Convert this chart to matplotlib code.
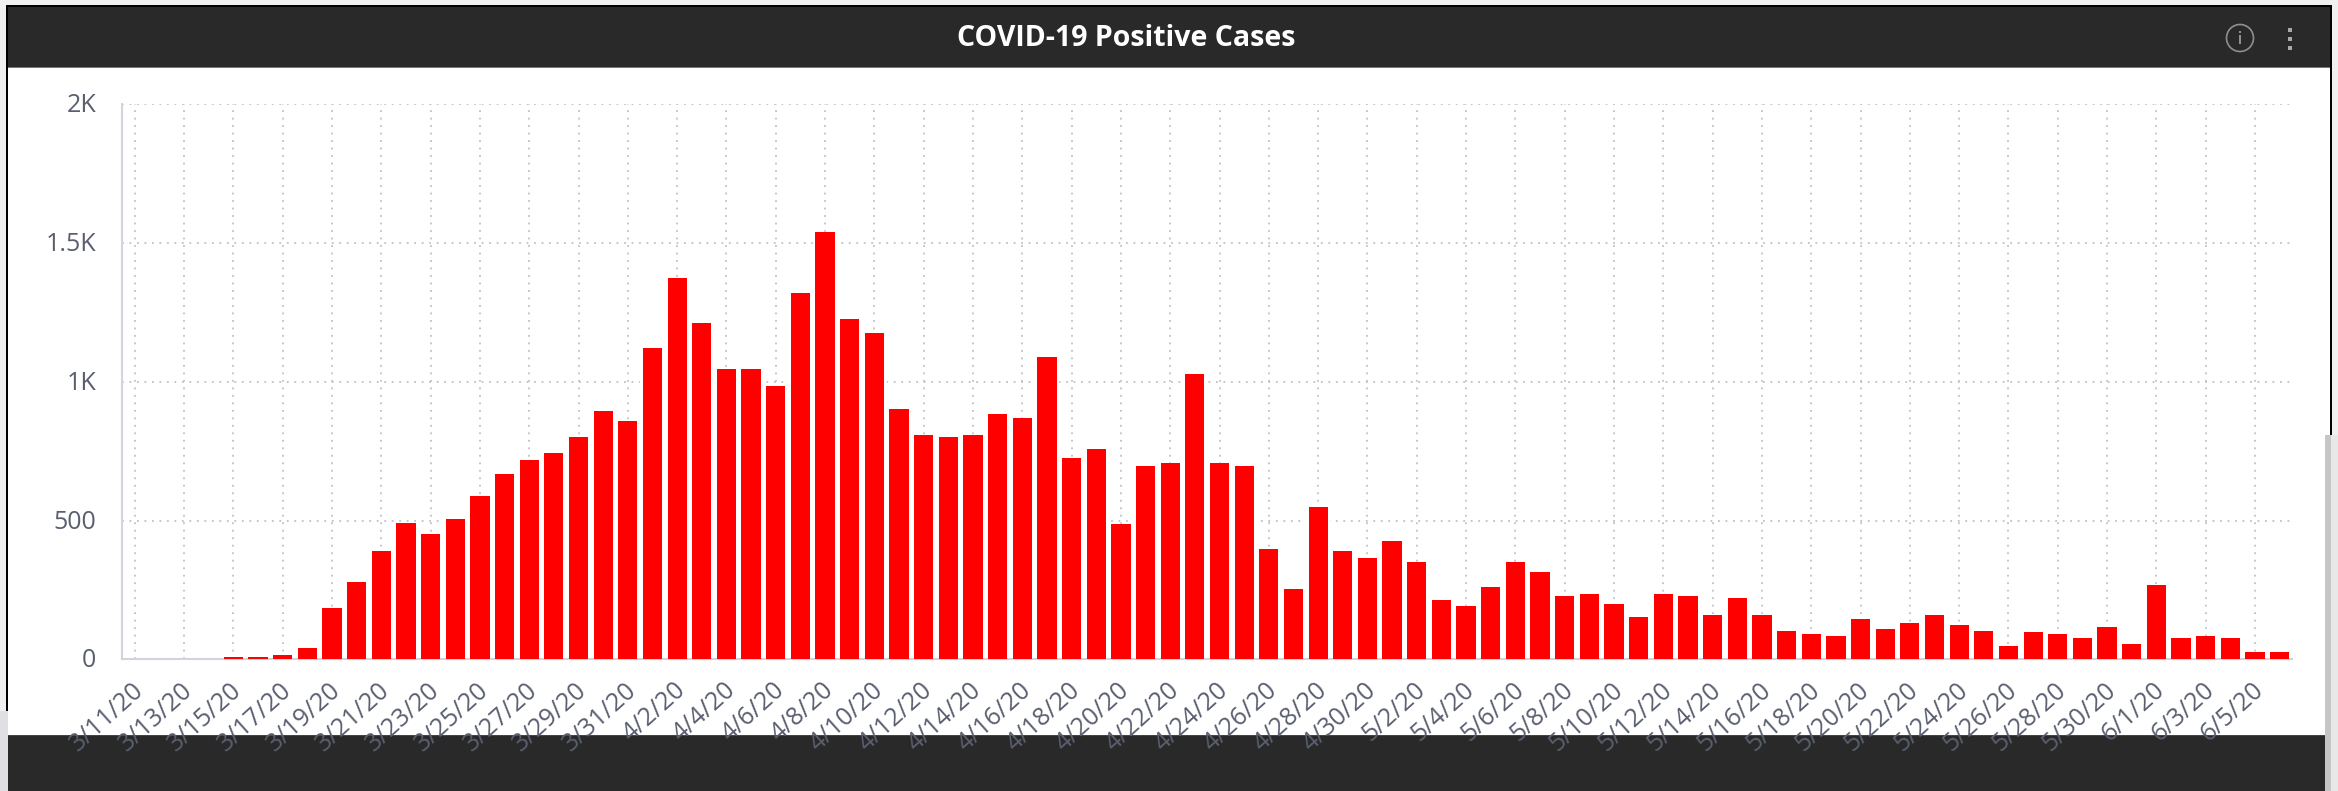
#!/usr/bin/env python
# -*- coding: utf-8 -*-

import matplotlib
matplotlib.use("Agg")
import matplotlib.pyplot as plt
from matplotlib.patches import Rectangle, Circle
from matplotlib.ticker import FuncFormatter
from matplotlib.transforms import ScaledTranslation

# daily positive cases, 3/11/20 to 6/6/20
cases = [
    0, 0, 0, 0, 8, 8, 15, 40, 185, 280, 391, 491, 451, 505, 589, 669, 718, 745, 800, 895, 860,
    1122, 1375, 1211, 1047, 1047, 985, 1322, 1539, 1225, 1178, 903, 810, 801, 810, 884, 871, 1088,
    725, 759, 488, 698, 706, 1027, 706, 698, 398, 255, 549, 391, 365,
    425, 352, 215, 193, 262, 352, 316, 228, 235, 201, 153, 235, 228, 159, 222, 159, 103, 90, 84,
    146, 110, 131, 159, 124, 103, 49, 97, 90, 76, 118, 56,
    269, 76, 84, 76, 28, 28,
]
date_labels = [
    "3/11/20", "3/13/20", "3/15/20", "3/17/20", "3/19/20", "3/21/20", "3/23/20", "3/25/20",
    "3/27/20", "3/29/20", "3/31/20", "4/2/20", "4/4/20", "4/6/20", "4/8/20", "4/10/20",
    "4/12/20", "4/14/20", "4/16/20", "4/18/20", "4/20/20", "4/22/20", "4/24/20", "4/26/20",
    "4/28/20", "4/30/20", "5/2/20", "5/4/20", "5/6/20", "5/8/20", "5/10/20", "5/12/20",
    "5/14/20", "5/16/20", "5/18/20", "5/20/20", "5/22/20", "5/24/20", "5/26/20", "5/28/20",
    "5/30/20", "6/1/20", "6/3/20", "6/5/20",
]
y_ticks = [0, 500, 1000, 1500, 2000]
title = "COVID-19 Positive Cases"

WIDTH, HEIGHT = 2338, 791
DARK = "#292929"
TEXT = "#5a5f70"
GRID = "#bfc0cb"
AXIS = "#d2d3de"

plt.rcParams["font.family"] = ["Open Sans", "DejaVu Sans"]

fig = plt.figure(figsize=(WIDTH / 100, HEIGHT / 100), dpi=100, facecolor="#f0f0f0")

# page chrome, in pixel coordinates
bg = fig.add_axes([0, 0, 1, 1], zorder=0)
bg.set_xlim(0, WIDTH)
bg.set_ylim(HEIGHT, 0)
bg.axis("off")


def box(x0, y0, x1, y1, color):
    bg.add_patch(Rectangle((x0, y0), x1 - x0, y1 - y0, facecolor=color, edgecolor="none"))


box(6, 5, 2332, 711, "black")
box(8, 7, 2330, 67, DARK)
box(8, 67, 2330, 68, "#777777")
box(8, 68, 2330, 735, "white")
box(0, 711, 8, 791, "#e0e0e4")
box(2331, 435, 2338, 791, "#e8e8e8")
box(2325, 435, 2331, 791, "#c6c6c6")
box(8, 735, 2325, 791, DARK)
box(8, 735, 2325, 736, "#444444")

bg.text(1126, 38, title, color="white", fontsize=20.5, fontweight="bold", ha="center", va="center")
bg.add_patch(Circle((2240, 38), 13.5, facecolor="none", edgecolor="#8f8f8f", linewidth=1.2))
box(2239.3, 35, 2240.7, 44, "#8f8f8f")
box(2239.3, 31, 2240.7, 33, "#8f8f8f")
for dot_y in (30, 39, 48):
    box(2288, dot_y - 2, 2292, dot_y + 2, "#a8a8a8")

# chart
left, right, top, bottom = 122.4, 2292, 104.4, 659.4
ax = fig.add_axes([left / WIDTH, 1 - bottom / HEIGHT, (right - left) / WIDTH, (bottom - top) / HEIGHT], zorder=1)
ax.patch.set_alpha(0)

x = list(range(len(cases)))
tick_x = x[::2][:len(date_labels)]

ax.set_axisbelow(True)
ax.grid(True, color=GRID, linewidth=1.3, linestyle=(0, (1, 3.15)))
ax.bar(x, cases, width=1.0, color="white", zorder=2)
ax.bar(x, cases, width=0.78, color="#ff0000", zorder=3)

ax.set_xlim(-0.5, len(cases) - 0.5)
ax.set_ylim(0, 2000)
ax.set_xticks(tick_x)
ax.set_xticklabels(date_labels, rotation=42, ha="right", rotation_mode="anchor")
ax.set_yticks(y_ticks)
ax.yaxis.set_major_formatter(FuncFormatter(lambda v, _: f"{v / 1000:g}K" if v >= 1000 else f"{v:.0f}"))
ax.tick_params(axis="x", length=0, pad=13, labelsize=18, labelcolor=TEXT)
ax.tick_params(axis="y", length=0, pad=19, labelsize=18, labelcolor=TEXT)

# labels sit a little left of their ticks, y labels a little higher
shift = ScaledTranslation(-3 / 100, 0, fig.dpi_scale_trans)
for label in ax.get_xticklabels():
    label.set_transform(label.get_transform() + shift)
lift = ScaledTranslation(0, 1.5 / 100, fig.dpi_scale_trans)
for label in ax.get_yticklabels():
    label.set_transform(label.get_transform() + lift)

for side in ("top", "right"):
    ax.spines[side].set_visible(False)
for side in ("left", "bottom"):
    ax.spines[side].set_color(AXIS)
    ax.spines[side].set_linewidth(1.5)

fig.savefig("out.png", dpi=100, facecolor=fig.get_facecolor())
